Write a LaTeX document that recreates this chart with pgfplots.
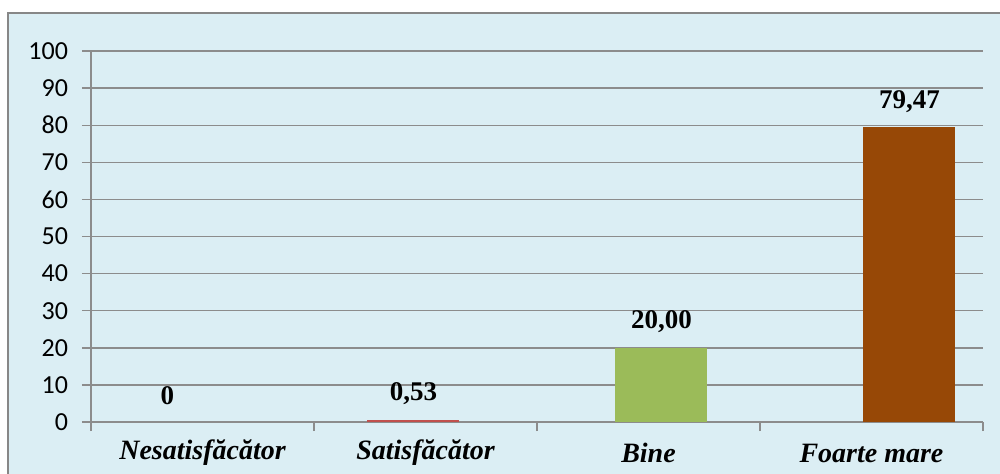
\documentclass[border=0pt]{standalone}
\usepackage{fontspec}
\setmainfont{Liberation Serif}
\newfontfamily\carlito{Carlito}
\usepackage{pgfplots}
\pgfplotsset{compat=1.18}
\definecolor{bg}{HTML}{DBEEF4}
\definecolor{frame}{HTML}{878787}
\definecolor{gridc}{HTML}{8C8C8C}
\definecolor{cRed}{HTML}{C0504D}
\definecolor{cGreen}{HTML}{9BBB59}
\definecolor{cBrown}{HTML}{974806}
\begin{document}
\begin{tikzpicture}
\useasboundingbox (0,0) rectangle (500pt,236.5pt);
\fill[bg] (4pt,-10pt) rectangle (510pt,230pt);
\draw[frame, line width=0.9pt] (4pt,-10pt) rectangle (510pt,230pt);
\begin{axis}[
  at={(45.5pt,25.5pt)}, anchor=south west,
  scale only axis, width=446pt, height=185.5pt,
  xmin=-0.5, xmax=3.5, ymin=0, ymax=100,
  ytick={0,10,...,100},
  xtick={-0.5,0.5,1.5,2.5,3.5},
  xticklabels={},
  extra x ticks={0,1,2,3},
  extra x tick labels={Nesatisfăcător,Satisfăcător,Bine,Foarte mare},
  extra x tick style={major tick length=0pt, xticklabel style={anchor=center, yshift=-15.5pt, font=\fontsize{14}{14}\selectfont\bfseries\itshape}},
  axis x line*=bottom, axis y line*=left,
  axis line style={gridc, line width=0.7pt},
  tick style={gridc, line width=0.7pt},
  tick align=outside, major tick length=4.5pt,
  ymajorgrids, grid style={gridc, line width=0.7pt},
  /pgf/number format/assume math mode=true,
  yticklabel style={font=\carlito\fontsize{13}{13}\selectfont, xshift=-3.5pt},
  ybar, bar width=46pt, bar shift=0pt,
  nodes near coords style={font=\fontsize{13.5}{13.5}\selectfont\bfseries, anchor=center, yshift=13pt,
    /pgf/number format/.cd, use comma, fixed, fixed zerofill, precision=2, assume math mode=true},
  clip=false,
]
\addplot[draw=none, fill=none, nodes near coords={0}] coordinates {(-0.157,0)};
\addplot[draw=none, fill=cRed, nodes near coords] coordinates {(0.946,0.53)};
\addplot[draw=none, fill=cGreen, nodes near coords] coordinates {(2.058,20.00)};
\addplot[draw=none, fill=cBrown, nodes near coords] coordinates {(3.170,79.47)};
\end{axis}
\end{tikzpicture}
\end{document}
